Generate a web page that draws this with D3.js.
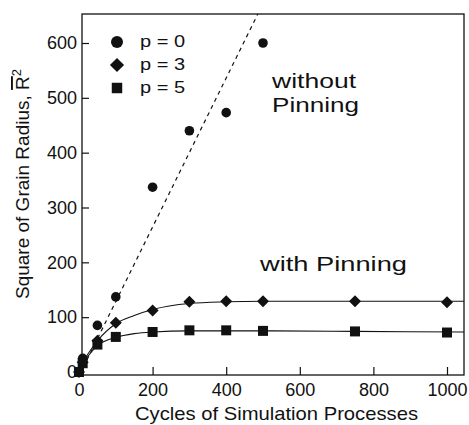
<!DOCTYPE html>
<html>
<head>
<meta charset="utf-8">
<script src="https://cdn.jsdelivr.net/npm/d3@7"></script>
<style>
  body { margin: 0; background: #fff; }
  text { font-family: "Liberation Sans", Arial, Helvetica, sans-serif; fill: #111; }
</style>
</head>
<body>
<script>
// values (cycles vs. square of grain radius)
var cyclesP0 = [0, 10, 50, 100, 200, 300, 400, 500];
var r2P0 = [0, 25, 85, 137, 337, 440, 473, 600];
var cyclesP3 = [0, 10, 50, 100, 200, 300, 400, 500, 750, 1000];
var r2P3 = [0, 18, 57, 90, 112, 128, 129, 129, 129, 127];
var cyclesP5 = [0, 10, 50, 100, 200, 300, 400, 500, 750, 1000];
var r2P5 = [0, 16, 50, 64, 73, 76, 76, 75, 74, 72];

// fitted lines drawn through the points
var fitP0X = [12, 500];
var fitP0Y = [9, 672];
var fitP3X = [8, 50, 100, 150, 200, 300, 400, 500, 750, 1046];
var fitP3Y = [16, 57, 88, 103, 114, 125, 128, 129, 129, 129];
var fitP5X = [8, 50, 100, 150, 200, 300, 400, 500, 750, 1046];
var fitP5Y = [14, 48, 63, 70, 73, 75, 75, 75, 74, 73];

var xTicks = [0, 200, 400, 600, 800, 1000];
var yTicks = [0, 100, 200, 300, 400, 500, 600];
var legendLabels = ["p = 0", "p = 3", "p = 5"];

var width = 469, height = 425;
var frame = {left: 82, right: 464, top: 14, bottom: 375};

var svg = d3.select("body").append("svg")
    .attr("width", width)
    .attr("height", height);

var x = d3.scaleLinear().domain([0, 1000]).range([79, 447]);
var y = d3.scaleLinear().domain([0, 600]).range([372, 43]);

svg.append("clipPath").attr("id", "plotclip")
  .append("rect")
    .attr("x", frame.left).attr("y", frame.top)
    .attr("width", frame.right - frame.left)
    .attr("height", frame.bottom - frame.top);

// axes (ticks point inward)
var yAxis = svg.append("g")
    .attr("transform", "translate(" + frame.left + ",0)")
    .call(d3.axisLeft(y).tickValues(yTicks).tickFormat(d3.format("d")).tickSize(-7).tickPadding(5));
var xAxis = svg.append("g")
    .attr("transform", "translate(0," + frame.bottom + ")")
    .call(d3.axisBottom(x).tickValues(xTicks).tickFormat(d3.format("d")).tickSize(-8).tickPadding(8));

[xAxis, yAxis].forEach(function(ax) {
  ax.select(".domain").remove();
  ax.selectAll(".tick line").attr("stroke", "#111").attr("stroke-width", 1.2)
    .filter(function(d) { return d === 0; }).remove();
  ax.selectAll(".tick text")
    .style("font-family", '"Liberation Sans", Arial, sans-serif')
    .style("font-size", "18px")
    .attr("fill", "#111");
});

// frame
svg.append("rect")
    .attr("x", frame.left).attr("y", frame.top)
    .attr("width", frame.right - frame.left)
    .attr("height", frame.bottom - frame.top)
    .attr("fill", "none")
    .attr("stroke", "#111")
    .attr("stroke-width", 1.3);

// fits
var line = d3.line()
    .x(function(d) { return x(d[0]); })
    .y(function(d) { return y(d[1]); });
var curve = d3.line()
    .curve(d3.curveMonotoneX)
    .x(function(d) { return x(d[0]); })
    .y(function(d) { return y(d[1]); });

var fits = svg.append("g").attr("clip-path", "url(#plotclip)");
fits.append("path")
    .datum(d3.zip(fitP0X, fitP0Y))
    .attr("d", line)
    .attr("fill", "none")
    .attr("stroke", "#111")
    .attr("stroke-width", 1.2)
    .attr("stroke-dasharray", "4,4");
fits.append("path")
    .datum(d3.zip(fitP3X, fitP3Y))
    .attr("d", curve)
    .attr("fill", "none")
    .attr("stroke", "#111")
    .attr("stroke-width", 1.1);
fits.append("path")
    .datum(d3.zip(fitP5X, fitP5Y))
    .attr("d", curve)
    .attr("fill", "none")
    .attr("stroke", "#111")
    .attr("stroke-width", 1.1);

// markers
var squareSym = d3.symbol().type(d3.symbolSquare).size(100);
var diamondSym = d3.symbol().type(d3.symbolSquare).size(72);

svg.append("g").selectAll("path")
    .data(d3.zip(cyclesP5, r2P5))
  .enter().append("path")
    .attr("d", squareSym)
    .attr("transform", function(d) { return "translate(" + x(d[0]) + "," + y(d[1]) + ")"; })
    .attr("fill", "#111");

svg.append("g").selectAll("path")
    .data(d3.zip(cyclesP3, r2P3))
  .enter().append("path")
    .attr("d", diamondSym)
    .attr("transform", function(d) { return "translate(" + x(d[0]) + "," + y(d[1]) + ") rotate(45)"; })
    .attr("fill", "#111");

svg.append("g").selectAll("circle")
    .data(d3.zip(cyclesP0, r2P0))
  .enter().append("circle")
    .attr("cx", function(d) { return x(d[0]); })
    .attr("cy", function(d) { return y(d[1]); })
    .attr("r", 4.8)
    .attr("fill", "#111");

// legend
var legend = svg.append("g");
var legY = [42, 65, 88];
legend.append("circle").attr("cx", 117).attr("cy", legY[0]).attr("r", 6).attr("fill", "#111");
legend.append("path").attr("d", d3.symbol().type(d3.symbolSquare).size(100))
    .attr("transform", "translate(117," + legY[1] + ") rotate(45)").attr("fill", "#111");
legend.append("path").attr("d", d3.symbol().type(d3.symbolSquare).size(110))
    .attr("transform", "translate(117," + legY[2] + ")").attr("fill", "#111");
legend.selectAll("text")
    .data(legendLabels)
  .enter().append("text")
    .attr("x", 140)
    .attr("y", function(d, i) { return legY[i] + 5; })
    .attr("textLength", 45)
    .attr("lengthAdjust", "spacingAndGlyphs")
    .style("font-size", "16px")
    .text(function(d) { return d; });

// annotations
svg.append("text").attr("x", 272).attr("y", 88)
    .attr("textLength", 84).attr("lengthAdjust", "spacingAndGlyphs")
    .style("font-size", "20px").text("without");
svg.append("text").attr("x", 272).attr("y", 112)
    .attr("textLength", 87).attr("lengthAdjust", "spacingAndGlyphs")
    .style("font-size", "20px").text("Pinning");
svg.append("text").attr("x", 260).attr("y", 271)
    .attr("textLength", 147).attr("lengthAdjust", "spacingAndGlyphs")
    .style("font-size", "21px").text("with Pinning");

// axis titles
svg.append("text")
    .attr("x", 135).attr("y", 420)
    .attr("textLength", 283).attr("lengthAdjust", "spacingAndGlyphs")
    .style("font-size", "19px")
    .text("Cycles of Simulation Processes");

var yt = svg.append("text")
    .attr("transform", "translate(29,184) rotate(-90)")
    .attr("text-anchor", "middle")
    .style("font-size", "19px");
yt.append("tspan").text("Square of Grain Radius, ");
yt.append("tspan").style("text-decoration", "overline").text("R");
yt.append("tspan").attr("dy", -8).style("font-size", "13px").text("2");
</script>
</body>
</html>
